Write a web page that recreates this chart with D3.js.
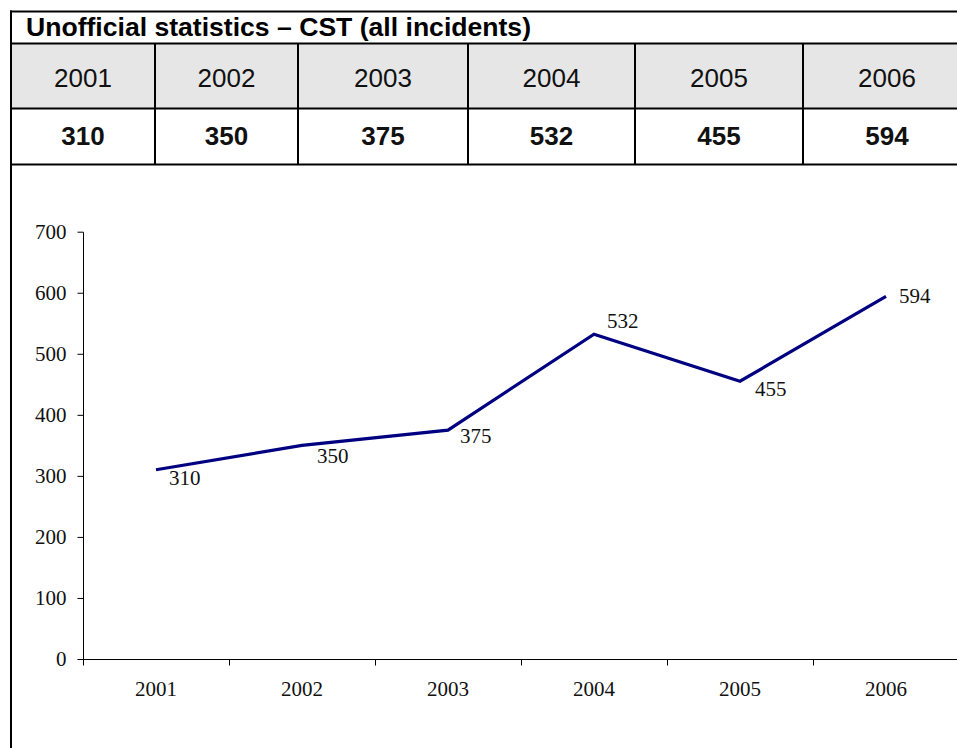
<!DOCTYPE html>
<html>
<head>
<meta charset="utf-8">
<script src="https://cdn.jsdelivr.net/npm/d3@7"></script>
<style>
  html, body { margin: 0; padding: 0; background: #fff; }
  svg { display: block; }
</style>
</head>
<body>
<script>
// ---- data ----
const title = "Unofficial statistics \u2013 CST (all incidents)";
const years = ["2001", "2002", "2003", "2004", "2005", "2006"];
const incidents = [310, 350, 375, 532, 455, 594];
const yTicks = [0, 100, 200, 300, 400, 500, 600, 700];

// ---- layout ----
const W = 957, H = 748;
const svg = d3.select("body").append("svg").attr("width", W).attr("height", H);

// table
const colEdges = [11, 155, 298, 468, 635, 803, 975];
const rowTop = 11, rowTitle = 43, rowHead = 108, rowVal = 164;
const sans = "'Liberation Sans', Arial, sans-serif";
const serif = "'Liberation Serif', 'Times New Roman', serif";

svg.append("rect").attr("x", 11).attr("y", rowTitle).attr("width", W).attr("height", rowHead - rowTitle)
  .attr("fill", "#e6e6e6");

const hl = [rowTop, rowTitle, rowHead, rowVal];
svg.selectAll("line.h").data(hl).join("line")
  .attr("x1", 10).attr("x2", W + 5).attr("y1", d => d + 0.5).attr("y2", d => d + 0.5)
  .attr("stroke", "#000").attr("stroke-width", 2);
svg.append("line").attr("x1", 11).attr("x2", 11).attr("y1", rowTop - 0.5).attr("y2", H)
  .attr("stroke", "#000").attr("stroke-width", 2);
svg.selectAll("line.v").data(colEdges.slice(1, -1)).join("line")
  .attr("x1", d => d).attr("x2", d => d).attr("y1", rowTitle).attr("y2", rowVal)
  .attr("stroke", "#000").attr("stroke-width", 2);

svg.append("text").attr("x", 26).attr("y", 36).text(title)
  .attr("font-family", sans).attr("font-weight", "bold").attr("font-size", 26)
  .attr("textLength", 505).attr("lengthAdjust", "spacingAndGlyphs").attr("fill", "#000");

svg.selectAll("text.year").data(years).join("text")
  .attr("x", (d, i) => (colEdges[i] + Math.min(colEdges[i + 1], W + 14)) / 2)
  .attr("y", 87).attr("text-anchor", "middle").text(d => d)
  .attr("font-family", sans).attr("font-size", 26).attr("fill", "#111");

svg.selectAll("text.val").data(incidents).join("text")
  .attr("x", (d, i) => (colEdges[i] + Math.min(colEdges[i + 1], W + 14)) / 2)
  .attr("y", 145).attr("text-anchor", "middle").text(d => d)
  .attr("font-family", sans).attr("font-weight", "bold").attr("font-size", 26).attr("fill", "#111");

// chart
const x = d3.scaleBand().domain(years).range([83, 959]).padding(0);
const y = d3.scaleLinear().domain([0, 700]).range([659, 231.7]);

const gy = svg.append("g").attr("transform", "translate(83.5,0)")
  .call(d3.axisLeft(y).tickValues(yTicks).tickSize(6).tickPadding(11).tickFormat(d3.format("d")));
gy.select(".domain").attr("d", `M0,${y(700) + 0.5}V${y(0) + 6}`);
const gx = svg.append("g").attr("transform", `translate(0,${y(0) + 0.5})`)
  .call(d3.axisBottom(x).tickValues([]).tickSizeOuter(0));
gx.select(".domain").attr("d", `M83,0H${W}`);
// boundary ticks between categories
const bounds = years.map(d => x(d)).concat([x(years[years.length - 1]) + x.bandwidth()]);
gx.selectAll("line.bt").data(bounds).join("line")
  .attr("x1", d => Math.round(d) + 0.5).attr("x2", d => Math.round(d) + 0.5)
  .attr("y1", 0).attr("y2", 6).attr("stroke", "#000");
gx.selectAll("text.cat").data(years).join("text")
  .attr("x", d => x(d) + x.bandwidth() / 2).attr("y", 36)
  .attr("text-anchor", "middle").text(d => d)
  .attr("font-family", serif).attr("font-size", 21).attr("fill", "#111");

[gx, gy].forEach(g => {
  g.selectAll(".domain").attr("stroke", "#000").attr("stroke-width", 1);
  g.selectAll(".tick line").attr("stroke", "#000");
  g.selectAll(".tick text").attr("font-family", serif).attr("font-size", 21).attr("fill", "#111");
});

const cx = d => x(d) + x.bandwidth() / 2;
const line = d3.line().x((d, i) => cx(years[i])).y(d => y(d));
svg.append("path").datum(incidents).attr("d", line)
  .attr("fill", "none").attr("stroke", "#000080").attr("stroke-width", 3.2).attr("stroke-linejoin", "miter");

// data labels (placement offsets, per point)
const labelOffsets = [[13, 15], [15, 18], [12, 13], [13, -6], [15, 15], [13, 7]];
svg.selectAll("text.lbl").data(incidents).join("text")
  .attr("x", (d, i) => cx(years[i]) + labelOffsets[i][0])
  .attr("y", (d, i) => y(d) + labelOffsets[i][1])
  .text(d => d)
  .attr("font-family", serif).attr("font-size", 21).attr("fill", "#111");
</script>
</body>
</html>
